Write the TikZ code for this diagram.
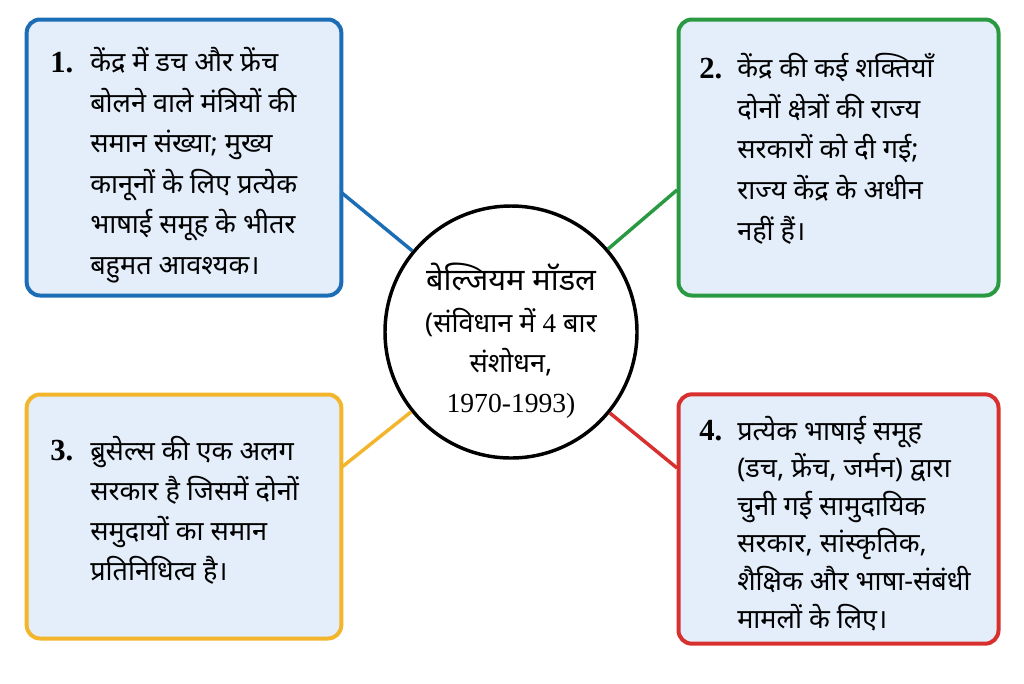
\documentclass[tikz,border=0pt]{standalone}
\usepackage{fontspec}
\setmainfont{Noto Sans}[Script=Devanagari]
\newfontfamily\latserif{Liberation Serif}
\usetikzlibrary{calc}
\definecolor{cblue}{HTML}{1B6DB5}
\definecolor{cgreen}{HTML}{2A9A42}
\definecolor{cyellow}{HTML}{F2B52C}
\definecolor{cred}{HTML}{D8302F}
\definecolor{boxfill}{HTML}{E3EEFA}
\tikzset{
  infobox/.style={draw=#1, line width=3pt, fill=boxfill, rounded corners=10pt, inner sep=0pt},
  numtxt/.style={inner sep=0pt, anchor=base west, font=\latserif\bfseries\fontsize{23}{26}\selectfont},
  bodytxt/.style={inner sep=0pt, anchor=base west, align=left, font=\fontsize{20.3}{#1}\selectfont},
  bodytxt/.default={30.4pt},
  link/.style={draw=#1, line width=2.6pt},
}
\begin{document}
\begin{tikzpicture}[x=0.75pt,y=-0.75pt]
\useasboundingbox (0,0) rectangle (1024,683);
% boxes
\node[infobox=cblue, minimum width=236pt, minimum height=207pt] (b1) at (184,157.5) {};
\node[infobox=cgreen, minimum width=240pt, minimum height=207pt] (b2) at (838.5,157.5) {};
\node[infobox=cyellow, minimum width=236pt, minimum height=183pt] (b3) at (184,516.5) {};
\node[infobox=cred, minimum width=240pt, minimum height=187pt] (b4) at (838.5,519) {};
% connector end points on the box sides
\coordinate (a1) at (342,193);
\coordinate (a2) at (677,190);
\coordinate (a3) at (342,467);
\coordinate (a4) at (677,468);
% centre circle
\node[circle, draw=black, line width=2.6pt, fill=white, minimum size=189pt, inner sep=0pt] (c) at (511,332) {};
\draw[link=cblue] (a1) -- (c);
\draw[link=cgreen] (a2) -- (c);
\draw[link=cyellow] (a3) -- (c);
\draw[link=cred] (a4) -- (c);
% texts (anchored at the baseline of their last line)
\node[numtxt] (n1) at (50,72) {1.};
\node[bodytxt] (t1) at (90,274.5) {केंद्र में डच और फ्रेंच\\बोलने वाले मंत्रियों की\\समान संख्या; मुख्य\\कानूनों के लिए प्रत्येक\\भाषाई समूह के भीतर\\बहुमत आवश्यक।};
\node[numtxt] (n2) at (699,78) {2.};
\node[bodytxt] (t2) at (737,240) {केंद्र की कई शक्तियाँ\\दोनों क्षेत्रों की राज्य\\सरकारों को दी गई;\\राज्य केंद्र के अधीन\\नहीं हैं।};
\node[numtxt] (n3) at (50,460) {3.};
\node[bodytxt={30pt}] (t3) at (90,580) {ब्रुसेल्स की एक अलग\\सरकार है जिसमें दोनों\\समुदायों का समान\\प्रतिनिधित्व है।};
\node[numtxt] (n4) at (699,440) {4.};
\node[bodytxt={28.2pt}] (t4) at (737,628) {प्रत्येक भाषाई समूह\\(डच, फ्रेंच, जर्मन) द्वारा\\चुनी गई सामुदायिक\\सरकार, सांस्कृतिक,\\शैक्षिक और भाषा-संबंधी\\मामलों के लिए।};
% circle texts
\node[inner sep=0pt, anchor=base, font=\bfseries\fontsize{23}{26}\selectfont] (ct) at (511,290) {बेल्जियम मॉडल};
\node[inner sep=0pt, anchor=base, align=center, font=\fontsize{20.3}{30}\selectfont] (cb) at (511,412) {({संविधान में }{\latserif 4}{ बार}\\संशोधन,\\{\latserif\fontsize{20.7}{30}\selectfont 1970-1993)}};
\end{tikzpicture}
\end{document}
